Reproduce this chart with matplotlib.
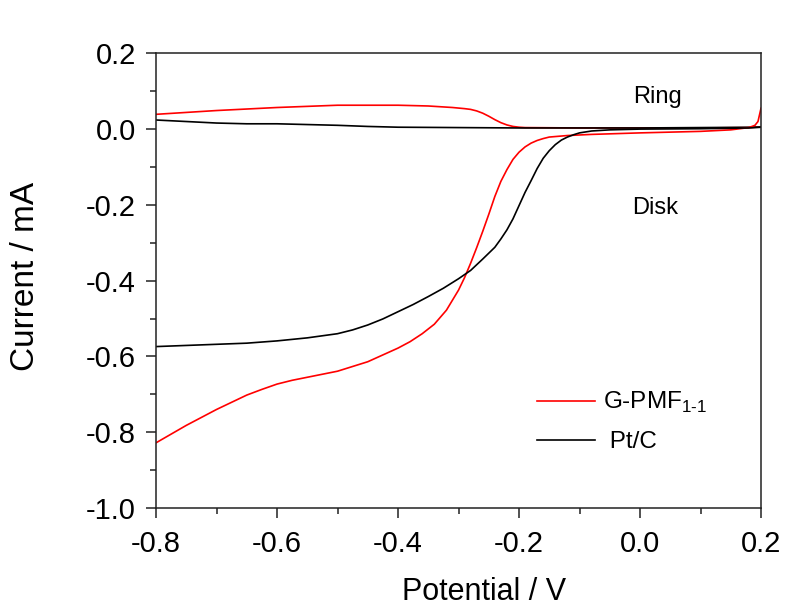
import matplotlib
matplotlib.use("Agg")
import matplotlib.pyplot as plt
from matplotlib.ticker import MultipleLocator, FormatStrFormatter

plt.rcParams['font.family'] = ['Liberation Sans', 'DejaVu Sans']
plt.rcParams['axes.unicode_minus'] = False
plt.rcParams['mathtext.fontset'] = 'custom'
plt.rcParams['mathtext.rm'] = 'Liberation Sans'

# G-PMF1-1 disk current
gpmf_disk_v = [-0.80, -0.75, -0.70, -0.65, -0.625, -0.60, -0.575, -0.55, -0.50, -0.45,
               -0.40, -0.38, -0.36, -0.34, -0.32, -0.30, -0.29, -0.28, -0.27, -0.26,
               -0.25, -0.24, -0.23, -0.22, -0.21, -0.20, -0.19, -0.18, -0.17, -0.16,
               -0.15, -0.12, -0.08, -0.04, 0.00, 0.05, 0.10, 0.15, 0.18, 0.19,
               0.195, 0.20]
gpmf_disk_i = [-0.828, -0.782, -0.740, -0.702, -0.687, -0.673, -0.663, -0.655, -0.639, -0.614,
               -0.578, -0.561, -0.540, -0.515, -0.478, -0.425, -0.392, -0.354, -0.313, -0.270,
               -0.225, -0.178, -0.138, -0.107, -0.080, -0.061, -0.047, -0.037, -0.030, -0.025,
               -0.021, -0.017, -0.014, -0.012, -0.010, -0.008, -0.006, -0.002, 0.004, 0.010,
               0.020, 0.055]

# Pt/C disk current
ptc_disk_v = [-0.80, -0.75, -0.70, -0.65, -0.60, -0.55, -0.50, -0.475, -0.45, -0.425,
              -0.40, -0.375, -0.35, -0.325, -0.30, -0.28, -0.26, -0.24, -0.23, -0.22,
              -0.21, -0.20, -0.19, -0.18, -0.17, -0.16, -0.15, -0.14, -0.13, -0.12,
              -0.11, -0.10, -0.08, -0.05, 0.00, 0.10, 0.18, 0.20]
ptc_disk_i = [-0.574, -0.571, -0.568, -0.565, -0.559, -0.551, -0.540, -0.530, -0.517, -0.501,
              -0.482, -0.463, -0.442, -0.420, -0.395, -0.373, -0.343, -0.312, -0.290, -0.266,
              -0.237, -0.202, -0.167, -0.136, -0.104, -0.077, -0.057, -0.041, -0.029, -0.021,
              -0.015, -0.010, -0.005, -0.002, 0.000, 0.001, 0.003, 0.005]

# ring currents
gpmf_ring_v = [-0.80, -0.70, -0.60, -0.50, -0.40, -0.35, -0.31, -0.29, -0.28, -0.27,
               -0.26, -0.25, -0.24, -0.23, -0.22, -0.21, -0.20, -0.19, -0.10, 0.00,
               0.10, 0.18, 0.20]
gpmf_ring_i = [0.039, 0.049, 0.057, 0.063, 0.063, 0.061, 0.057, 0.054, 0.052, 0.048,
               0.042, 0.034, 0.025, 0.017, 0.011, 0.007, 0.005, 0.004, 0.003, 0.003,
               0.003, 0.004, 0.006]

ptc_ring_v = [-0.80, -0.70, -0.65, -0.60, -0.55, -0.50, -0.45, -0.40, -0.30, -0.20, 0.00, 0.20]
ptc_ring_i = [0.024, 0.016, 0.014, 0.014, 0.012, 0.010, 0.007, 0.005, 0.004, 0.003, 0.003, 0.005]

fig = plt.figure(figsize=(8.03, 6.08), dpi=100)
ax = fig.add_axes([0.1943, 0.1645, 0.7534, 0.7478])

ax.plot(gpmf_ring_v, gpmf_ring_i, color='#ff0000', lw=1.2)
ax.plot(ptc_ring_v, ptc_ring_i, color='black', lw=1.2)
ax.plot(gpmf_disk_v, gpmf_disk_i, color='#ff0000', lw=1.2,
        label='G-PMF$_{\\mathregular{1\\text{-}1}}$')
ax.plot(ptc_disk_v, ptc_disk_i, color='black', lw=1.2, label=' Pt/C')

ax.set_xlim(-0.8, 0.2)
ax.set_ylim(-1.0, 0.2)
ax.xaxis.set_major_locator(MultipleLocator(0.2))
ax.xaxis.set_minor_locator(MultipleLocator(0.1))
ax.yaxis.set_major_locator(MultipleLocator(0.2))
ax.yaxis.set_minor_locator(MultipleLocator(0.1))
ax.xaxis.set_major_formatter(FormatStrFormatter('%.1f'))
ax.yaxis.set_major_formatter(FormatStrFormatter('%.1f'))

for s in ax.spines.values():
    s.set_linewidth(1.1)
    s.set_color('#222222')
ax.tick_params(which='major', direction='out', length=7.5, width=1.1, labelsize=21,
               color='#222222')
ax.tick_params(which='minor', direction='out', length=4, width=1.1, color='#222222')
ax.tick_params(axis='x', which='major', pad=8)
ax.tick_params(axis='y', which='major', pad=7)

ax.set_xlabel('Potential / V', fontsize=22)
ax.set_ylabel('Current / mA', fontsize=24)
ax.xaxis.set_label_coords(0.542, -0.152)
ax.yaxis.set_label_coords(-0.19, 0.51)

ax.text(-0.012, 0.085, 'Ring', fontsize=17, va='center', ha='left')
ax.text(-0.013, -0.208, 'Disk', fontsize=17, va='center', ha='left')

ax.legend(loc='center left', bbox_to_anchor=(0.63, 0.19), frameon=False, fontsize=17.5,
          handlelength=2.4, handletextpad=0.3, labelspacing=0.65,
          borderpad=0, borderaxespad=0)

fig.savefig('out.png', dpi=100)
